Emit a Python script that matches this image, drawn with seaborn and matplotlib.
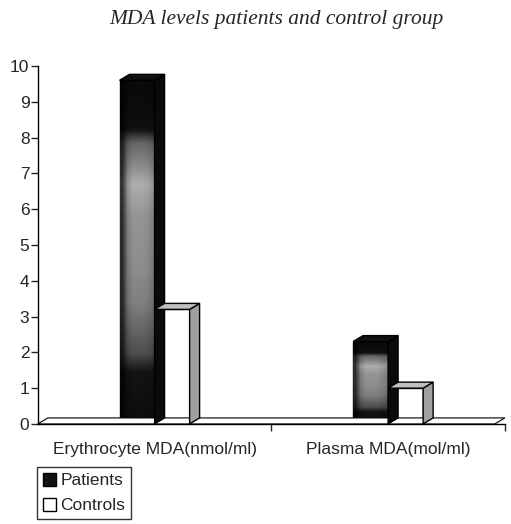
import numpy as np
import pandas as pd
import matplotlib
matplotlib.use("Agg")
import matplotlib.pyplot as plt
from matplotlib.patches import Polygon
from matplotlib.transforms import IdentityTransform
import seaborn as sns

# Data
categories = ["Erythrocyte MDA(nmol/ml)", "Plasma MDA(mol/ml)"]
groups = ["Patients", "Controls"]
patients = [9.6, 2.3]
controls = [3.2, 1.0]
y_ticks = list(range(0, 11))

df = pd.DataFrame({
    "measure": categories * 2,
    "group": ["Patients"] * 2 + ["Controls"] * 2,
    "value": patients + controls,
})

sns.set_style("white")
plt.rcParams['font.family'] = ['Liberation Sans', 'DejaVu Sans']

fig = plt.figure(figsize=(5.11, 5.24), dpi=100)
ax = fig.add_axes([0.074, 0.191, 0.914, 0.683])

sns.barplot(data=df, x="measure", y="value", hue="group", hue_order=groups,
            palette=["#111111", "white"], width=0.3, gap=0, edgecolor="black",
            linewidth=1, ax=ax, legend=True, errorbar=None)

ax.set_xlim(-0.5, 1.5)
ax.set_ylim(0, 10)
ax.set_yticks(y_ticks)
ax.set_xlabel("")
ax.set_ylabel("")
ax.tick_params(axis="y", direction="out", length=5, width=1, left=True, labelsize=12.5, pad=1)
ax.tick_params(axis="x", which="major", length=0, labelsize=12.5, pad=13)
ax.set_xticks([0.5, 1.5], minor=True)
ax.tick_params(axis="x", which="minor", direction="out", length=5, width=1, bottom=True)
sns.despine(ax=ax)
for s in ["left", "bottom"]:
    ax.spines[s].set_color("black")
    ax.spines[s].set_linewidth(1)

fig.canvas.draw()

# pseudo-3D depth offset in pixels
dx, dy = 10, 6

# floor plane
bb = ax.get_window_extent()
L, B, R = bb.x0, bb.y0, bb.x1
floor = Polygon([(L, B), (L + dx, B + dy), (R, B + dy), (R - dx, B)], closed=True,
                transform=IdentityTransform(), facecolor="white", edgecolor="black",
                linewidth=0.8, zorder=1.5, clip_on=False)
fig.add_artist(floor)

# shading profile for the patients bars (fraction of height -> gray level)
prof_f = [0.0, 0.15, 0.2, 0.35, 0.45, 0.6, 0.7, 0.75, 0.82, 0.86, 1.0]
prof_g = [0.05, 0.08, 0.3, 0.5, 0.55, 0.58, 0.68, 0.55, 0.4, 0.06, 0.04]
horiz = np.array([0.3, 0.85, 1.0, 1.0, 1.0, 0.95, 0.85])

bars = [p for p in ax.patches if p.get_height() > 0]
n_cat = len(categories)
for i, p in enumerate(bars):
    is_patient = i < n_cat
    z = 2 if is_patient else 3
    p.set_zorder(z)
    x0, y0 = p.get_x(), p.get_y()
    x1, y1 = x0 + p.get_width(), y0 + p.get_height()
    (px0, py0), (px1, py1) = ax.transData.transform([(x0, y0), (x1, y1)])
    side = [(px1, py0), (px1 + dx, py0 + dy), (px1 + dx, py1 + dy), (px1, py1)]
    top = [(px0, py1), (px0 + dx, py1 + dy), (px1 + dx, py1 + dy), (px1, py1)]
    side_c = "#0a0a0a" if is_patient else "#a0a0a0"
    top_c = "#111111" if is_patient else "#c0c0c0"
    for verts, c in [(side, side_c), (top, top_c)]:
        fig.add_artist(Polygon(verts, closed=True, transform=IdentityTransform(),
                               facecolor=c, edgecolor="black", linewidth=1,
                               zorder=z + 0.1, clip_on=False))
    if is_patient:
        fr = np.linspace(0, 1, 120)
        col = np.interp(fr, prof_f, prof_g)
        img = np.outer(col[::-1], horiz)
        im = ax.imshow(img, cmap="gray", vmin=0, vmax=1, aspect="auto",
                       extent=(x0, x1, y0, y1), zorder=z + 0.05, interpolation="bilinear")
        im.set_clip_path(p)

ax.set_xlim(-0.5, 1.5)
ax.set_ylim(0, 10)

leg = ax.legend(loc="upper left", bbox_to_anchor=(0.072, 0.109), bbox_transform=fig.transFigure,
                frameon=True, fancybox=False, handlelength=0.75, handleheight=0.75,
                handletextpad=0.25, borderpad=0.35, labelspacing=0.55, fontsize=12.5,
                borderaxespad=0)
leg.get_frame().set_edgecolor("black")
leg.get_frame().set_linewidth(1)

fig.text(0.54, 0.962, "MDA levels patients and control group", ha="center", va="center",
         fontsize=15.5, style="italic", family=["Liberation Serif", "DejaVu Serif"])

fig.savefig("out.png", dpi=100)
